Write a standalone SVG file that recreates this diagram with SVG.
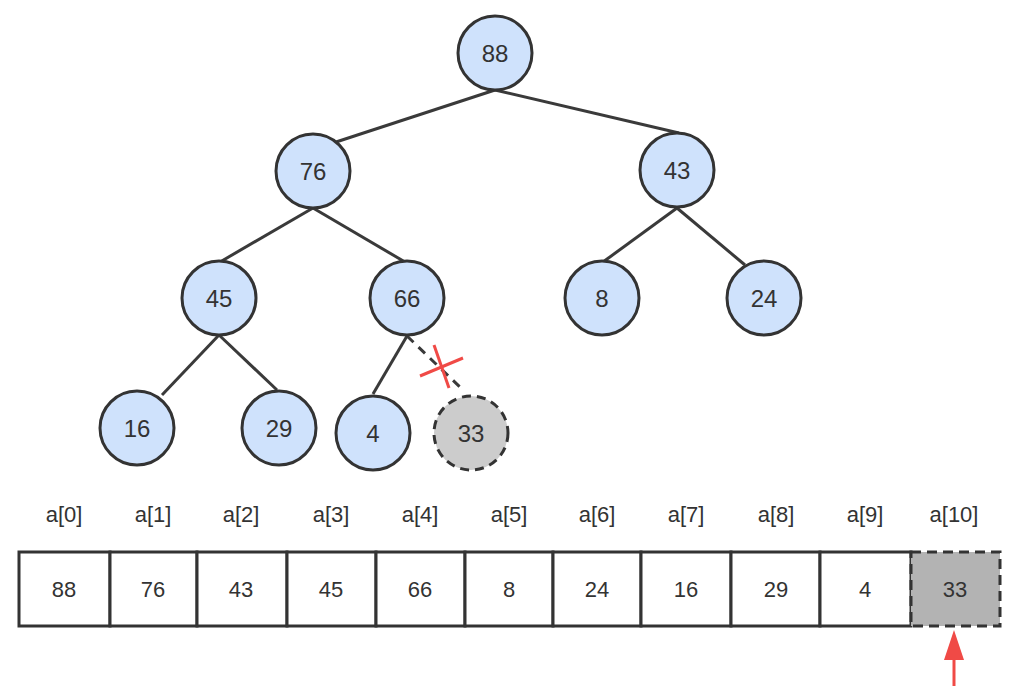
<svg xmlns="http://www.w3.org/2000/svg" width="1018" height="686" viewBox="0 0 1018 686">
<style>
.n{fill:#cfe2fc;stroke:#333;stroke-width:3}
.g{fill:#cccccc;stroke:#333;stroke-width:3;stroke-dasharray:9 6}
.t{font-family:"Liberation Sans",Arial,sans-serif;font-size:24px;fill:#333;text-anchor:middle;dominant-baseline:central}
.s{font-family:"Liberation Sans",Arial,sans-serif;font-size:22px;fill:#333;text-anchor:middle;dominant-baseline:central}
.e{stroke:#3a3a3a;stroke-width:3;fill:none}
.c{fill:#fff;stroke:#333;stroke-width:3}
</style>
<rect width="1018" height="686" fill="#fff"/>
<g id="connectors">
<line class="e" x1="495" y1="90" x2="336" y2="142"/>
<line class="e" x1="495" y1="90" x2="679" y2="133"/>
<line class="e" x1="313" y1="208" x2="220" y2="262"/>
<line class="e" x1="313" y1="208" x2="405" y2="262"/>
<line class="e" x1="677" y1="208" x2="603" y2="262"/>
<line class="e" x1="677" y1="208" x2="745" y2="265"/>
<line class="e" x1="219" y1="335" x2="162" y2="395"/>
<line class="e" x1="219" y1="335" x2="277" y2="390"/>
<line class="e" x1="407" y1="336" x2="373" y2="394"/>
<line class="e" x1="407" y1="336" x2="463" y2="390" stroke-dasharray="9 7"/>
<line x1="420" y1="376" x2="463" y2="358" stroke="#f04a46" stroke-width="3"/>
<line x1="434" y1="345" x2="449" y2="388" stroke="#f04a46" stroke-width="3"/>
<line x1="954" y1="686" x2="954" y2="655" stroke="#f04a46" stroke-width="3"/>
<polygon points="954,630 964,660 944,660" fill="#f04a46"/>
</g>
<g id="n88"><circle class="n" cx="495" cy="53" r="37"/><text class="t" x="495" y="53">88</text></g>
<g id="n76"><circle class="n" cx="313" cy="171" r="37"/><text class="t" x="313" y="171">76</text></g>
<g id="n43"><circle class="n" cx="677" cy="170" r="37"/><text class="t" x="677" y="170">43</text></g>
<g id="n45"><circle class="n" cx="219" cy="298" r="37"/><text class="t" x="219" y="298">45</text></g>
<g id="n66"><circle class="n" cx="407" cy="298" r="37"/><text class="t" x="407" y="298">66</text></g>
<g id="n8"><circle class="n" cx="602" cy="298" r="37"/><text class="t" x="602" y="298">8</text></g>
<g id="n24"><circle class="n" cx="764" cy="298" r="37"/><text class="t" x="764" y="298">24</text></g>
<g id="n16"><circle class="n" cx="137" cy="428" r="37"/><text class="t" x="137" y="428">16</text></g>
<g id="n29"><circle class="n" cx="279" cy="428" r="37"/><text class="t" x="279" y="428">29</text></g>
<g id="n4"><circle class="n" cx="373" cy="433" r="37"/><text class="t" x="373" y="433">4</text></g>
<g id="n33"><circle class="g" cx="471" cy="433" r="37"/><text class="t" x="471" y="433">33</text></g>
<g id="labels">
<text class="s" x="64" y="514">a[0]</text>
<text class="s" x="153" y="514">a[1]</text>
<text class="s" x="241" y="514">a[2]</text>
<text class="s" x="331" y="514">a[3]</text>
<text class="s" x="420" y="514">a[4]</text>
<text class="s" x="509" y="514">a[5]</text>
<text class="s" x="597" y="514">a[6]</text>
<text class="s" x="686" y="514">a[7]</text>
<text class="s" x="776" y="514">a[8]</text>
<text class="s" x="865" y="514">a[9]</text>
<text class="s" x="954" y="514">a[10]</text>
</g>
<g id="array">
<rect class="c" x="19" y="552" width="91" height="74"/>
<rect class="c" x="110" y="552" width="87" height="74"/>
<rect class="c" x="197" y="552" width="90" height="74"/>
<rect class="c" x="287" y="552" width="89" height="74"/>
<rect class="c" x="376" y="552" width="89" height="74"/>
<rect class="c" x="465" y="552" width="88" height="74"/>
<rect class="c" x="553" y="552" width="88" height="74"/>
<rect class="c" x="641" y="552" width="90" height="74"/>
<rect class="c" x="731" y="552" width="89" height="74"/>
<rect class="c" x="820" y="552" width="91" height="74"/>
<rect x="911" y="552" width="89" height="74" fill="#b3b3b3" stroke="#333" stroke-width="3" stroke-dasharray="10 6"/>
<text class="s" x="64" y="589">88</text>
<text class="s" x="153" y="589">76</text>
<text class="s" x="241" y="589">43</text>
<text class="s" x="331" y="589">45</text>
<text class="s" x="420" y="589">66</text>
<text class="s" x="509" y="589">8</text>
<text class="s" x="597" y="589">24</text>
<text class="s" x="686" y="589">16</text>
<text class="s" x="776" y="589">29</text>
<text class="s" x="865" y="589">4</text>
<text class="s" x="955" y="589">33</text>
</g>
</svg>
